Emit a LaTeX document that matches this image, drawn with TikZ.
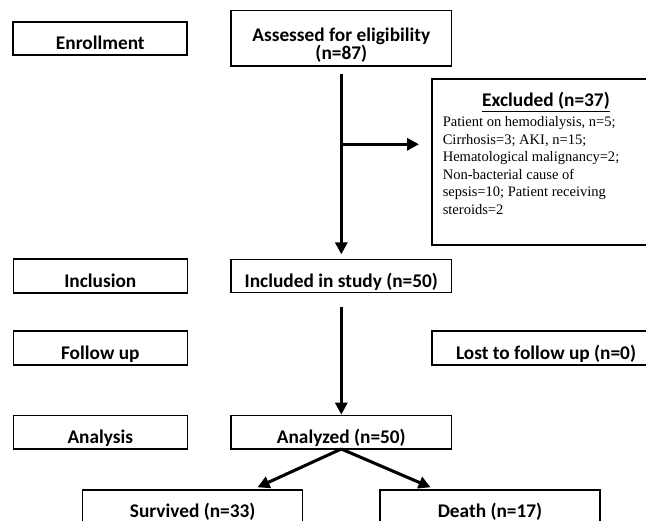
\documentclass[tikz,border=0pt]{standalone}
\usepackage{fontspec}
\setmainfont{Liberation Serif}
\newfontfamily\labfont{Carlito}
\usetikzlibrary{arrows.meta,calc}
\begin{document}
\begin{tikzpicture}[x=0.75pt,y=-0.75pt,
  labtext/.style={font=\labfont\bfseries\fontsize{14.5}{16}\selectfont},
  box/.style={draw=black, line width=1.1pt, rectangle, inner sep=0pt, outer sep=0pt,
    labtext, align=center, text height=16.5pt, text depth=0pt},
  leftbox/.style={box, minimum width=130.5pt, minimum height=25.2pt},
  midbox/.style={box, minimum width=165.5pt, minimum height=25pt},
  outbox/.style={box, minimum width=165pt, minimum height=25.2pt},
  arr/.style={line width=2.3pt, -{Triangle[length=9pt,width=9pt]}}
]
\useasboundingbox (0,0) rectangle (646,521);
\clip (0,0) rectangle (646,521);
\fill[white] (0,0) rectangle (646,521);

% left column
\node[leftbox, line width=1.3pt] (enr) at (100.3,38.5) {Enrollment};
\node[leftbox] (inc) at (100.3,276) {Inclusion};
\node[leftbox] (fol) at (100.3,348) {Follow up};
\node[leftbox] (ana) at (100.3,432.3) {Analysis};

% middle column
\node[draw=black, line width=1.1pt, inner sep=0pt, outer sep=0pt,
  minimum width=165.5pt, minimum height=41.5pt] (asd) at (341.3,38.3) {};
\node[labtext, inner sep=0pt, anchor=base] (asdt1) at (341.3,41) {Assessed for eligibility};
\node[labtext, inner sep=0pt, anchor=base] (asdt2) at (341.3,59) {(n=87)};
\node[midbox] (incd) at (341.3,276) {Included in study (n=50)};
\node[midbox] (anz) at (341.3,432.3) {Analyzed (n=50)};

% right column
\node[draw=black, line width=1.1pt, inner sep=0pt, outer sep=0pt,
  minimum width=201pt, minimum height=124.5pt] (exc) at (566,162) {};
\node[labtext, inner sep=0pt, anchor=base] (exct) at (546,106.5) {\underline{Excluded (n=37)}};
\node[anchor=base west, inner sep=0pt, align=left,
  font=\fontsize{10.9}{13.1}\selectfont] (excl) at (442.5,214.3)
  {Patient on hemodialysis, n=5;\\
   Cirrhosis=3; AKI, n=15;\\
   Hematological malignancy=2;\\
   Non-bacterial cause of\\
   sepsis=10; Patient receiving\\
   steroids=2};
\node[draw=black, line width=1.1pt, inner sep=0pt, outer sep=0pt,
  minimum width=201pt, minimum height=25.5pt] (lost) at (566,348) {};
\node[labtext, inner sep=0pt, anchor=base] (lostt) at (546,359) {Lost to follow up (n=0)};

% outcomes
\node[outbox] (surv) at (192.7,506.8) {Survived (n=33)};
\node[outbox] (death) at (490,506.8) {Death (n=17)};

% connectors
\coordinate (br) at (341.3,144.3);
\draw[arr] ($(asd.south)+(0,8)$) -- ($(incd.north)+(0,-5)$);
\draw[arr] (br) -- ($(br -| exc.west)+(-13,0)$);
\draw[arr] ($(incd.south)+(0,14)$) -- ($(anz.north)+(0,-1)$);
\coordinate (st) at (257.5,487.3);
\coordinate (dt) at (430.6,487.3);
\draw[arr] (anz.south) -- (st);
\draw[arr] (anz.south) -- (dt);
\end{tikzpicture}
\end{document}
